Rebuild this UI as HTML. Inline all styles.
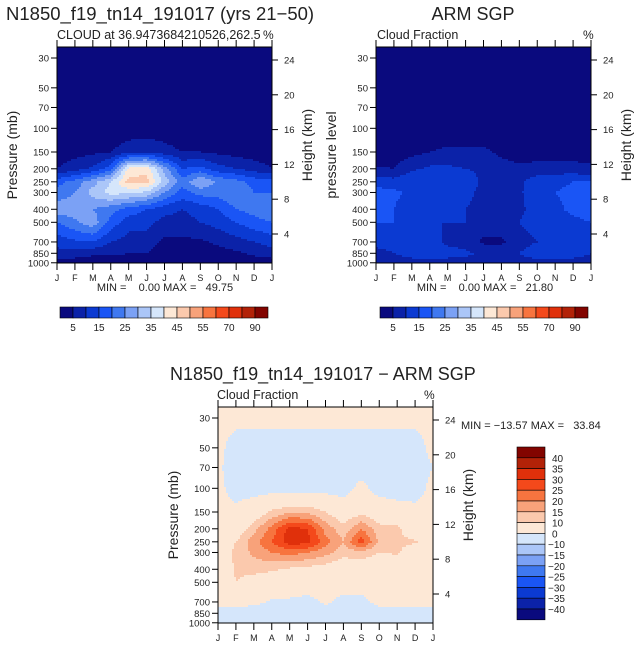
<!DOCTYPE html>
<html><head><meta charset="utf-8"><style>
html,body{margin:0;padding:0;background:#fff;}
svg{display:block;font-family:"Liberation Sans",sans-serif;}
text{fill:#222;white-space:pre;}
</style></head><body>
<svg id="chart" width="641" height="645" viewBox="0 0 641 645">
<g id="root"></g>
</svg>
<script>
// ---------------- data ----------------
const months = ["J","F","M","A","M","J","J","A","S","O","N","D","J"];
const pressureLevels = [30,50,70,100,150,200,250,300,400,500,700,850,1000];
const pressureTicks = [30,50,70,100,150,200,250,300,400,500,700,850,1000];
const heightTicks = [24,20,16,12,8,4];
const absLevels = [5,10,15,20,25,30,35,40,45,50,55,60,70,80,90];
const absTickLabels = ["5","15","25","35","45","55","70","90"];
const diffLevels = [-40,-35,-30,-25,-20,-15,-10,0,10,15,20,25,30,35,40];
const diffTickLabels = ["40","35","30","25","20","15","10","0","-10","-15","-20","-25","-30","-35","-40"];
const palette = ["#0a0a7e","#0b22a8","#0b3ad2","#1a55f5","#3f78f0","#7ba1f5","#abc6f8","#d5e6fb","#fde8d6","#fbc9ad","#f8a27a","#f7743f","#f4491b","#e0300b","#b22208","#820400"];
const modelCloud = [
 [1,1,1,1,1,1,1,1,1,1,1,1,1],
 [1,1,1,1,1,1,1,1,1,1,1,1,1],
 [1,1,1,1,1,1,1,1,1,1,1,1,1],
 [1,1,1,1,2,2,2,1,1,1,1,1,1],
 [2,3,4,5,8,9,7,5,5,4,3,2,2],
 [5,8,11,18,42,43,28,15,17,12,10,8,5],
 [18,22,28,35,47,47,33,22,30,24,22,18,18],
 [22,25,32,37,36,34,25,18,22,22,25,20,20],
 [28,28,25,22,18,15,12,10,12,15,20,22,25],
 [20,24,28,18,12,12,8,8,10,12,15,18,20],
 [12,14,15,10,8,7,4,4,4,6,8,10,12],
 [8,8,6,6,5,5,3,3,3,3,4,6,8],
 [2,2,2,2,2,2,2,2,2,2,2,2,2]
];
const obsCloud = [
 [1,1,1,1,1,1,1,1,1,1,1,1,1],
 [1,1,1,1,1,1,1,1,1,1,1,1,1],
 [1,1,1,1,1,1,1,1,1,1,1,1,1],
 [1,1,1,1,2,2,2,1,1,1,1,1,1],
 [2,2.5,3.5,5,6,6,6,4,2.5,2.5,2.5,2.5,2.5],
 [5.5,5,9,11,11,10,9,7,6,7,7,7,6],
 [13,12,14,15,15,13,9,8,9,13,14,15,15],
 [17,16,14,13,13,12,8,8,9,14,15,16,18],
 [18,15,12,12,11,10,8,8,9,12,14,16,17],
 [15,15,12,10,10,10,8,8,10,12,13,14,15],
 [11,11,12,12,9,8,4,4,8,10,11,11,10],
 [9,10,12,13,12,11,9,8,10,13,14,12,10],
 [8,8,8,8,8,8,8,8,8,8,8,8,8]
];
const diffCloud = [
 [2,2,2,2,2,2,2,2,2,2,2,2,2],
 [2,-3,-3,-3,-3,-3,-3,-3,-3,-3,-3,-3,2],
 [1,-3,-3,-3,-3,-3,-3,-3,-3,-3,-3,-3,0],
 [2,-3,-3,-3,-3,-3,-3,-3,2,-3,-3,-3,2],
 [2,2,5,11,14,14,10,5,8,5,3,2,2],
 [2,5,13,22,32,30,18,12,20,12,12,2,2],
 [3,10,18,25,33,32,22,15,28,14,12,11,3],
 [3,12,16,20,22,20,17,12,13,10,11,4,3],
 [3,11,12,11,9,8,7,5,6,4,3,3,3],
 [3,10,7,5,4,4,3,3,3,3,3,3,3],
 [3,3,2,-1,-1,-2,1,-2,-2,2,3,3,3],
 [-3,-3,-5,-3,-5,-3,-3,-3,-3,-3,-5,-3,-3],
 [-8,-6,-5,-5,-5,-5,-5,-5,-5,-8,-8,-6,-8]
];
// ---------------- helpers ----------------
const NS="http://www.w3.org/2000/svg";
const root=document.getElementById('root');
function mk(tag,attrs,parent){const e=document.createElementNS(NS,tag);for(const k in attrs)e.setAttribute(k,attrs[k]);(parent||root).appendChild(e);return e;}
function txt(s,x,y,size,anchor,parent,rot){const t=mk('text',{x:x,y:y,'font-size':size,'text-anchor':anchor||'start'},parent);if(rot)t.setAttribute('transform','rotate('+rot+' '+x+' '+y+')');t.textContent=s;return t;}
const PW=215, PH=216;
function yP(p){return 11+58.4*(Math.log(p)-Math.log(30));}
function xM(m){return m*PW/12;}
function yH(h){return 13+(24-h)*8.7;}
function colorFor(v,levels){let i=0;while(i<levels.length&&v>=levels[i])i++;return palette[i];}
const lps=pressureLevels.map(Math.log);
function sample(grid,fx,lp){
  let r=0;
  if(lp>lps[0]){while(r<lps.length-2&&lp>lps[r+1])r++;}
  let ty=(lp-lps[r])/(lps[r+1]-lps[r]);ty=Math.max(0,Math.min(1,ty));
  let c=Math.max(0,Math.min(11,Math.floor(fx)));let tx=Math.max(0,Math.min(1,fx-c));
  const a=grid[r][c]*(1-tx)+grid[r][c+1]*tx;
  const b=grid[r+1][c]*(1-tx)+grid[r+1][c+1]*tx;
  return a*(1-ty)+b*ty;
}
function panel(ox,oy,grid,levels,name,ylab){
  const g=mk('g',{transform:'translate('+ox+','+oy+')'});
  
  
  const fill=mk('g',{},g);
  
  
  const S=2;
  for(let py=0;py<PH;py+=S){
    const lp=Math.log(30)+(py+S/2-11)/58.4;
    let prev=null,start=0;
    for(let px=0;px<PW;px+=S){
      const fx=(px+S/2)/PW*12;
      const col=colorFor(sample(grid,fx,lp),levels);
      if(col!==prev){
        if(prev!==null){mk('rect',{x:start,y:py,width:px-start+0.5,height:S+0.5,fill:prev},fill);}
        prev=col;start=px;
      }
    }
    if(prev!==null){mk('rect',{x:start,y:py,width:PW-start,height:Math.min(S+0.5,PH-py),fill:prev},fill);}
  }
  mk('rect',{x:0,y:0,width:PW,height:PH,fill:'none',stroke:'#000','stroke-width':1},g);
  pressureTicks.forEach(p=>{const y=yP(p);mk('line',{x1:-6,x2:0,y1:y,y2:y,stroke:'#000'},g);
    const t=txt(String(p),-8,y+3.5,9.5,'end',g);});
  heightTicks.forEach(h=>{const y=yH(h);mk('line',{x1:PW,x2:PW+6,y1:y,y2:y,stroke:'#000'},g);
    const t=txt(String(h),PW+12,y+3.5,9.5,'start',g);});
  months.forEach((m,i)=>{const x=xM(i);mk('line',{x1:x,x2:x,y1:PH,y2:PH+7,stroke:'#000'},g);mk('line',{x1:x,x2:x,y1:-7,y2:0,stroke:'#000'},g);
    const t=txt(m,x,PH+18,9,'middle',g);});
  const yl=txt(ylab,-40,PH/2,14,'middle',g,-90);
  const hl=txt('Height (km)',PW+40,PH/2-10,14,'middle',g,-90);
  return g;
}
function hbar(x0,y0,name){
  const g=mk('g',{});
  const w=13;
  palette.forEach((c,i)=>mk('rect',{x:x0+i*w,y:y0,width:w,height:11,fill:c,stroke:'#000','stroke-width':0.6},g));
  absTickLabels.forEach((s,k)=>{const t=txt(s,x0+(2*k+1)*w,y0+24,10,'middle',g);});
}
// ---------------- panels ----------------
panel(57,47,modelCloud,absLevels,'model-panel','Pressure (mb)');
panel(376,47,obsCloud,absLevels,'obs-panel','pressure level');
panel(218,407,diffCloud,diffLevels,'diff-panel','Pressure (mb)');
let t;
t=txt('N1850_f19_tn14_191017 (yrs 21\u221250)',6,20,18.5,'start');
t=txt('CLOUD at 36.9473684210526,262.5',57,39,12.5,'start');
t=txt('%',263,39,12,'start');
t=txt('ARM SGP',473,20,18,'middle');
t=txt('Cloud Fraction',377,39,12.5,'start');
t=txt('%',583,39,12,'start');
t=txt('N1850_f19_tn14_191017 \u2212 ARM SGP',170,380,18,'start');
t=txt('Cloud Fraction',217,399,12.5,'start');
t=txt('%',424,399,12,'start');
t=txt('MIN =    0.00 MAX =   49.75',165,291,11,'middle');
t=txt('MIN =    0.00 MAX =   21.80',485,291,11,'middle');
t=txt('MIN = \u221213.57 MAX =   33.84',461,429,11,'start');
hbar(60,307,'model-colorbar');
hbar(380,307,'obs-colorbar');
(function(){
  const g=mk('g',{});
  const x0=517,y0=447,h=10.8;
  for(let i=0;i<16;i++){mk('rect',{x:x0,y:y0+i*h,width:28,height:h,fill:palette[15-i],stroke:'#000','stroke-width':0.6},g);}
  diffTickLabels.forEach((s,k)=>{const tt=txt(s.replace('-','\u2212'),s[0]==='-'?548:552,y0+(k+1)*h+4,10,'start',g);});
})();
</script>
</body></html>
